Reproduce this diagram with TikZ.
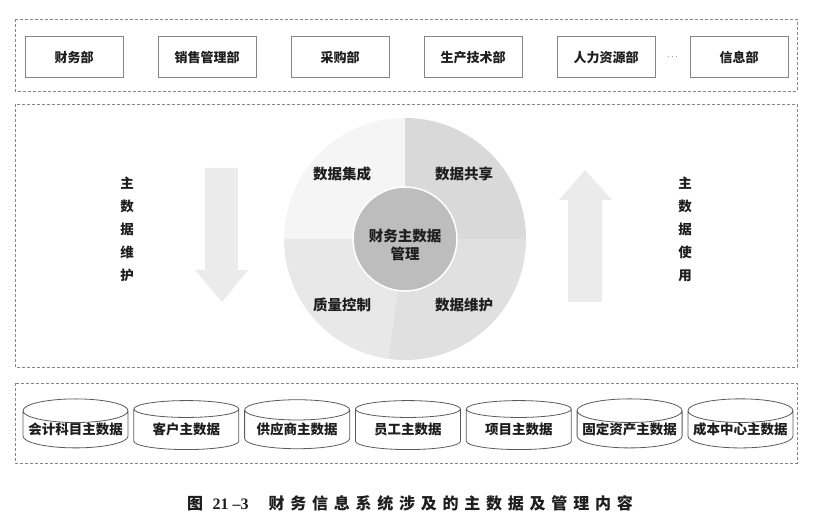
\documentclass[tikz,border=0pt]{standalone}
\usepackage{fontspec}
\setmainfont{Noto Sans CJK SC}
\newfontfamily\capfont[LetterSpace=36]{Noto Sans CJK SC}
\newfontfamily\numfont{Liberation Serif}
\usepackage{tikz}
\usetikzlibrary{positioning,shapes.geometric}
\definecolor{ink}{HTML}{1E1E1E}
\definecolor{frame}{HTML}{858585}
\definecolor{rim}{HTML}{5A5A5A}
\definecolor{hubfill}{HTML}{BDBDBD}
\definecolor{shaft}{HTML}{EBEBEB}
\tikzset{zone/.style={draw=frame,dash pattern=on 3pt off 2pt,line width=.7pt},
dept/.style={draw=frame,line width=1pt,minimum width=98pt,minimum height=41pt,font=\fontsize{13}{15}\selectfont\bfseries,text=ink,inner sep=0pt},
mdata/.style={cylinder,shape border rotate=90,aspect=.25,draw=rim,line width=.8pt,minimum width=105pt,minimum height=49pt,font=\fontsize{13.5}{15}\selectfont\bfseries,text=ink,inner sep=0pt},
vert/.style={align=center,font=\fontsize{13.5}{23}\selectfont\bfseries,text=ink},
task/.style={font=\fontsize{14.5}{16}\selectfont\bfseries,text=ink},
flow/.style={fill=shaft}}

\begin{document}
\begin{tikzpicture}[x=1pt,y=-1pt]
\useasboundingbox (0,0) rectangle (820,526);
% three layers
\draw[zone] (15,19) rectangle (797,91);
\draw[zone] (15,104) rectangle (797,367);
\draw[zone] (15,383) rectangle (797,463);
% departments
\node[dept] (fin) at (74,57.5) {财务部};
\node[dept,right=34pt of fin] (sales) {销售管理部};
\node[dept,right=34pt of sales] (buy) {采购部};
\node[dept,right=34pt of buy] (prod) {生产技术部};
\node[dept,right=34pt of prod] (hr) {人力资源部};
\node[dept,right=34pt of hr] (info) {信息部};
\path (hr.east) -- node[font=\fontsize{9}{9}\selectfont,text=ink] (dots) {$\cdots$} (info.west);
% ring of tasks
\coordinate (ctr) at (405,239);
\fill[fill=white!96!black] (ctr) -- ++(90:121pt) arc[start angle=90,end angle=180,radius=121pt] -- cycle;
\fill[fill=white!91!black] (ctr) -- ++(180:121pt) arc[start angle=180,end angle=262,radius=121pt] -- cycle;
\fill[fill=white!88!black] (ctr) -- ++(262:121pt) arc[start angle=262,end angle=360,radius=121pt] -- cycle;
\fill[fill=white!85!black] (ctr) -- ++(0:121pt) arc[start angle=0,end angle=90,radius=121pt] -- cycle;
\node[circle,fill=hubfill,draw=white,line width=1.5pt,minimum size=104pt] (hub) at (ctr) {};
\node[align=center,font=\fontsize{14.5}{18}\selectfont\bfseries,text=ink,yshift=-6pt] (hubtext) at (hub) {财务主数据\\管理};
\node[task] (integ) at (342,174) {数据集成};
\node[task] (share) at (464,174) {数据共享};
\node[task] (qual) at (342,305) {质量控制};
\node[task] (keep) at (464,305) {数据维护};
% flows
\fill[flow] (205,168) -- (238,168) -- (238,270) -- (248,270) -- (222,302) -- (195,270) -- (205,270) -- cycle;
\fill[flow] (568,302) -- (602,302) -- (602,200) -- (612,200) -- (585,170) -- (559,200) -- (568,200) -- cycle;
\node[vert] (maint) at (127,229) {主\\数\\据\\维\\护};
\node[vert] (usage) at (685,229) {主\\数\\据\\使\\用};
% master data
\node[mdata] (acct) at (75.5,429.5) {会计科目主数据};
\node[mdata,right=5pt of acct] (cust) {客户主数据};
\node[mdata,right=5pt of cust] (supp) {供应商主数据};
\node[mdata,right=5pt of supp] (staff) {员工主数据};
\node[mdata,right=5pt of staff] (proj) {项目主数据};
\node[mdata,right=5pt of proj] (asset) {固定资产主数据};
\node[mdata,right=5pt of asset] (cost) {成本中心主数据};
% caption
\node[font=\fontsize{16}{18}\selectfont\bfseries,text=ink] (cap) at (410,503) {\capfont 图 {\numfont\bfseries 21 –3}\hspace{20pt}财务信息系统涉及的主数据及管理内容};
\end{tikzpicture}
\end{document}
